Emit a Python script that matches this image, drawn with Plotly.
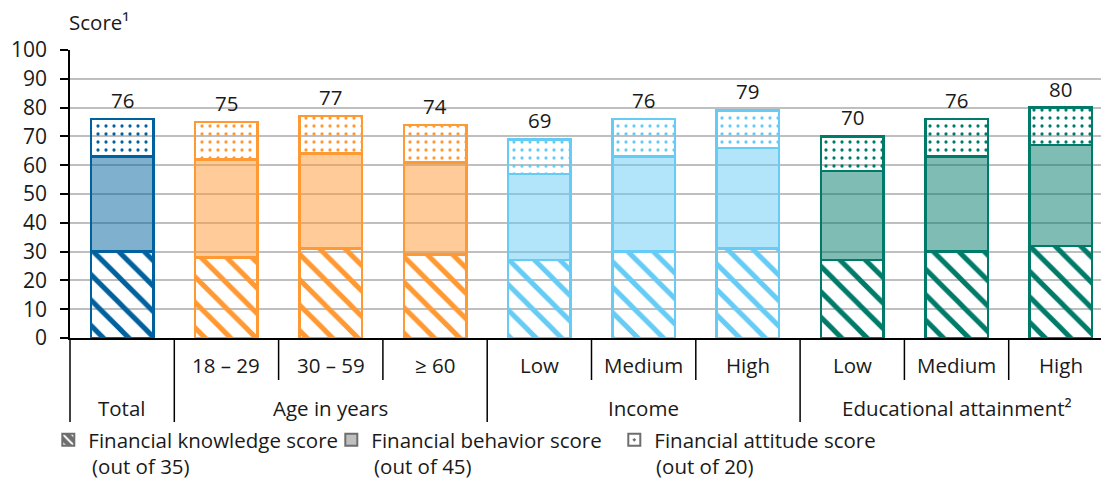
import plotly.graph_objects as go

# Score components per population group
categories = ["Total", "18 – 29", "30 – 59", "≥ 60", "Low", "Medium", "High", "Low", "Medium", "High"]
groups = ["Total", "Age in years", "Age in years", "Age in years", "Income", "Income", "Income",
          "Educational attainment²", "Educational attainment²", "Educational attainment²"]
knowledge = [30, 28, 31, 29, 27, 30, 31, 27, 30, 32]
behavior = [33, 34, 33, 32, 30, 33, 35, 31, 33, 35]
attitude = [13, 13, 13, 13, 12, 13, 13, 12, 13, 13]
y_ticks = [0, 10, 20, 30, 40, 50, 60, 70, 80, 90, 100]
legend_names = ["Financial knowledge score", "Financial behavior score", "Financial attitude score"]
legend_notes = ["(out of 35)", "(out of 45)", "(out of 20)"]

group_colors = {
    "Total": (0, 97, 158),
    "Age in years": (255, 153, 51),
    "Income": (102, 204, 245),
    "Educational attainment²": (0, 123, 105),
}

FONT = "Open Sans"
FS = 20.5
TXT = "#1a1a1a"
n = len(categories)
x = list(range(n))
totals = [k + b + a for k, b, a in zip(knowledge, behavior, attitude)]


def rgb(c, a=1.0):
    return f"rgba({c[0]},{c[1]},{c[2]},{a})"


solid = [rgb(group_colors[g]) for g in groups]
half = [rgb(group_colors[g], 0.5) for g in groups]

fig = go.Figure()
bar_w = 0.6
line_w = 2.5

fig.add_trace(go.Bar(
    x=x, y=knowledge, width=bar_w, showlegend=False, hoverinfo="skip",
    marker=dict(color=solid, line=dict(color=solid, width=line_w),
                pattern=dict(shape="\\", fgcolor=solid, bgcolor="white",
                             size=18, solidity=0.28, fillmode="replace")),
))
fig.add_trace(go.Bar(
    x=x, y=behavior, width=bar_w, showlegend=False, hoverinfo="skip",
    marker=dict(color=half, line=dict(color=solid, width=line_w)),
))
fig.add_trace(go.Bar(
    x=x, y=attitude, width=bar_w, showlegend=False, hoverinfo="skip",
    marker=dict(color=solid, line=dict(color=solid, width=line_w),
                pattern=dict(shape=".", fgcolor=solid, bgcolor="white",
                             size=8, solidity=0.13, fillmode="replace")),
))

# Neutral legend swatches
grey_dark = "#6E6E6E"
fig.add_trace(go.Bar(
    x=[0], y=[None], name=legend_names[0],
    marker=dict(color=grey_dark, line=dict(color=grey_dark, width=2),
                pattern=dict(shape="\\", fgcolor="white", bgcolor=grey_dark,
                             size=8, solidity=0.3, fillmode="replace")),
))
fig.add_trace(go.Bar(
    x=[0], y=[None], name=legend_names[1],
    marker=dict(color="#BFBFBF", line=dict(color=grey_dark, width=2)),
))
fig.add_trace(go.Scatter(
    x=[0], y=[None], name=legend_names[2], mode="markers",
    marker=dict(symbol="square-dot", size=12, color="white",
                line=dict(color=grey_dark, width=2)),
))

W, H = 1101, 482
ML, MR, MT, MB = 70, 0, 50, 144
plot_w = W - ML - MR
plot_h = H - MT - MB
slot_px = 104.3
x0 = -0.5
x1 = x0 + plot_w / slot_px

legend_text_px = 90      # left edge of first legend text
legend_step_px = 282     # distance between legend entries
legend_entry = legend_step_px - 44


def px_x(v):
    return (v - x0) / (x1 - x0)


def py_below(px):
    return -px / plot_h


annotations = []
# total value above each stack
for i, t in enumerate(totals):
    annotations.append(dict(x=i, y=t, text=str(t), showarrow=False, yanchor="bottom",
                            xanchor="center", yshift=3,
                            font=dict(size=FS, color=TXT, family=FONT)))

# first row: sub-category labels
for i, (c, g) in enumerate(zip(categories, groups)):
    if c != g:
        annotations.append(dict(x=px_x(i), xref="paper", y=py_below(27), yref="paper",
                                text=c, showarrow=False, yanchor="middle", xanchor="center",
                                font=dict(size=FS, color=TXT, family=FONT)))

# second row: group labels and separators
shapes = []
start = 0
spans = []
for i in range(1, n + 1):
    if i == n or groups[i] != groups[start]:
        spans.append((groups[start], start, i - 1))
        start = i
for name, a, b in spans:
    annotations.append(dict(x=px_x((a + b) / 2), xref="paper", y=py_below(70), yref="paper",
                            text=name, showarrow=False, yanchor="middle", xanchor="center",
                            font=dict(size=FS, color=TXT, family=FONT)))
    shapes.append(dict(type="line", xref="paper", yref="paper",
                       x0=px_x(a - 0.5), x1=px_x(a - 0.5), y0=0, y1=py_below(84),
                       line=dict(color="black", width=1.5)))
    for j in range(a + 1, b + 1):
        shapes.append(dict(type="line", xref="paper", yref="paper",
                           x0=px_x(j - 0.5), x1=px_x(j - 0.5), y0=0, y1=py_below(42),
                           line=dict(color="black", width=1.5)))

# second line of each legend entry
for k, note in enumerate(legend_notes):
    annotations.append(dict(x=(legend_text_px + 1 + k * legend_step_px - ML) / plot_w, xref="paper",
                            y=py_below(128), yref="paper", text=note, showarrow=False,
                            xanchor="left", yanchor="middle", borderpad=0,
                            font=dict(size=FS, color=TXT, family=FONT)))

annotations.append(dict(x=-3 / plot_w, xref="paper", y=1 + 28 / plot_h, yref="paper",
                        text="Score¹", showarrow=False, xanchor="left", yanchor="middle",
                        font=dict(size=FS, color=TXT, family=FONT)))

fig.update_layout(
    width=W, height=H,
    margin=dict(l=ML, r=MR, t=MT, b=MB),
    paper_bgcolor="white", plot_bgcolor="white",
    barmode="stack",
    font=dict(family=FONT, size=FS, color=TXT),
    xaxis=dict(range=[x0, x1], showgrid=False, zeroline=False, showticklabels=False,
               ticks="", showline=True, linecolor="black", linewidth=1.5, fixedrange=True),
    yaxis=dict(range=[0, 100], tickvals=y_ticks, showgrid=True, gridcolor="#BFBFBF",
               gridwidth=1.5, zeroline=False, showline=True, linecolor="black", linewidth=1.5,
               ticks="outside", ticklen=8, tickwidth=1.5, tickcolor="black",
               ticklabelstandoff=9,
               tickfont=dict(size=21, family=FONT, color=TXT), fixedrange=True),
    legend=dict(orientation="h", x=(legend_text_px - 41.7 - ML) / plot_w, xanchor="left",
                y=py_below(82), yanchor="top",
                itemwidth=30, entrywidth=legend_entry, entrywidthmode="pixels",
                font=dict(size=FS, family=FONT, color=TXT), traceorder="normal",
                bgcolor="rgba(0,0,0,0)", itemclick=False, itemdoubleclick=False),
    annotations=annotations,
    shapes=shapes,
)

fig.write_html("out.html")
